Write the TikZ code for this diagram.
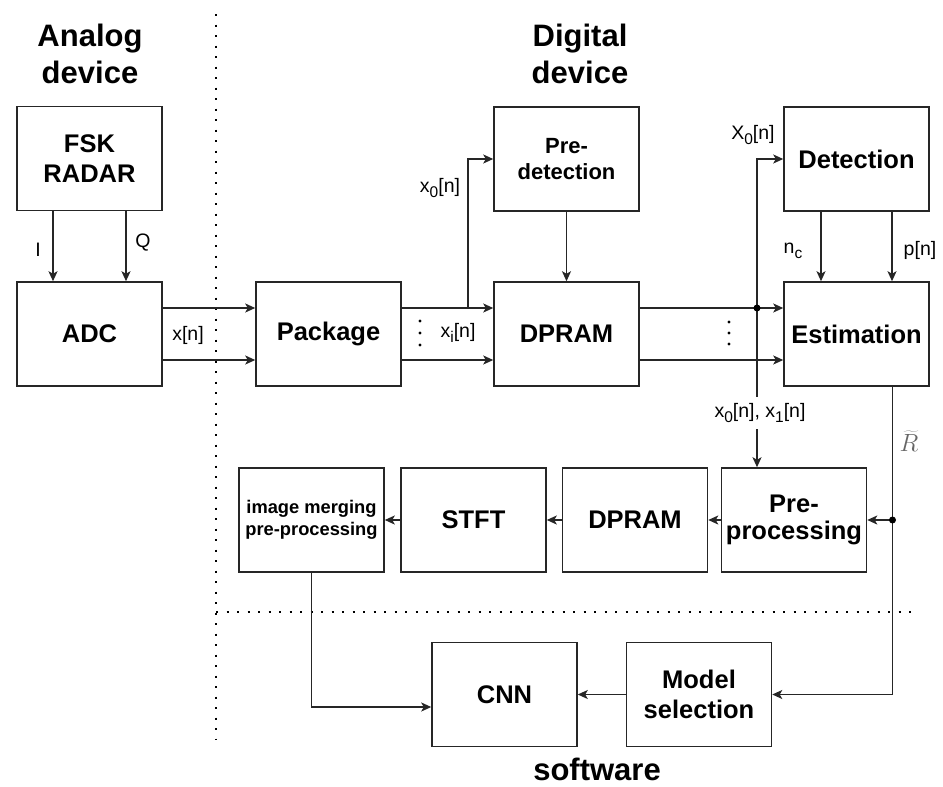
\documentclass[tikz,border=0pt]{standalone}
\usepackage{fontspec}
\setmainfont{Liberation Sans}
\usetikzlibrary{arrows.meta,calc}
\definecolor{ink}{HTML}{262626}
% lowered index in signal names
\newcommand{\idx}[1]{\raisebox{-0.28em}{\fontsize{15.5}{16}\selectfont #1}}
\begin{document}
\begin{tikzpicture}[x=1pt,y=-1pt,
  blk/.style={draw=ink,line width=1.5pt,minimum width=145pt,minimum height=104pt,
    inner sep=0pt,align=center,font=\fontsize{25.5}{30}\selectfont\bfseries},
  sblk/.style={blk,font=\fontsize{22}{26}\selectfont\bfseries},
  tblk/.style={blk,font=\fontsize{18.3}{22}\selectfont\bfseries},
  arr/.style={draw=ink,line width=1.5pt,-{Stealth[length=10pt,width=9pt,inset=2.5pt]}},
  lbl/.style={inner sep=1pt,font=\fontsize{19.5}{22}\selectfont},
  hdr/.style={inner sep=0pt,anchor=base,font=\fontsize{31}{37}\selectfont\bfseries},
  sep/.style={draw=black,line width=2.2pt,dash pattern=on 2.2pt off 8.3pt},
  jdot/.style={fill=black}]
\useasboundingbox (0,0) rectangle (943,787);

% section dividers
\draw[sep] (216,14) -- (216,740);
\draw[sep] (216,612) -- (914,612);

% headings
\node[hdr] (h1a) at (90,46) {Analog};
\node[hdr] (h1b) at (90,83) {device};
\node[hdr] (h2a) at (580,46) {Digital};
\node[hdr] (h2b) at (580,83) {device};
\node[hdr] (h3) at (597,780) {software};

% blocks
\node[blk]  (fsk)  at (89.5,158.5) {FSK\\RADAR};
\node[blk]  (adc)  at (89.5,334)   {ADC};
\node[blk]  (pkg)  at (328.5,334)  {Package};
\node[sblk] (pred) at (566.5,159)  {Pre-\\detection};
\node[blk]  (dpr)  at (566.5,334)  {DPRAM};
\node[blk]  (det)  at (856.5,159)  {Detection};
\node[blk]  (est)  at (856.5,334)  {Estimation};
\node[blk, font=\fontsize{25.5}{27}\selectfont\bfseries] (prep) at (794,520) {Pre-\\processing};
\node[blk]  (dpr2) at (635,520)    {DPRAM};
\node[blk]  (stft) at (473.5,520)  {STFT};
\node[tblk] (img)  at (311.5,520)  {image merging\\pre-processing};
\node[blk]  (msel) at (699,694.5)  {Model\\selection};
\node[blk]  (cnn)  at (504.5,694.5) {CNN};

% analog front end
\draw[arr] ([xshift=-36.5pt]fsk.south) -- ([xshift=-36.5pt]adc.north);
\draw[arr] ([xshift=36.5pt]fsk.south) -- ([xshift=36.5pt]adc.north);
\node[lbl] (lI) at (38,250) {I};
\node[lbl] (lQ) at (143,243) {Q};

\draw[arr] ([yshift=26pt]adc.east) -- ([yshift=26pt]pkg.west);
\draw[arr] ([yshift=-26pt]adc.east) -- ([yshift=-26pt]pkg.west);
\node[lbl] (lx) at (188,335) {x[n]};

% package to DPRAM
\draw[arr] ([yshift=26pt]pkg.east) -- ([yshift=26pt]dpr.west);
\draw[arr] ([yshift=-26pt]pkg.east) -- ([yshift=-26pt]dpr.west);
\foreach \dy in {-12,0,12} \fill[black] (420,333+\dy) circle (1.7pt);
\node[lbl] (lxi) at (458,333) {x\idx{i}[n]};

\coordinate (b1) at (468,308);
\draw[arr] (b1) |- (pred.west);
\node[lbl] (lx0) at (440,188) {x\idx{0}[n]};
\draw[arr] (pred.south) -- (dpr.north);

% DPRAM to estimation
\draw[arr] ([yshift=26pt]dpr.east) -- ([yshift=26pt]est.west);
\draw[arr] ([yshift=-26pt]dpr.east) -- ([yshift=-26pt]est.west);
\foreach \dy in {-11,0,11} \fill[black] (729,333+\dy) circle (1.7pt);

\coordinate (tap) at (757,308);
\draw[arr] (tap) |- (det.west);
\draw[arr] (tap) -- (tap |- prep.north);
\fill[jdot] (tap) circle (3.5pt);
\node[lbl] (lX0) at (753,135) {X\idx{0}[n]};
\node[lbl,fill=white,inner ysep=6pt] (lx01) at (760,413) {x\idx{0}[n], x\idx{1}[n]};

\draw[arr] ([xshift=-35.5pt]det.south) -- ([xshift=-35.5pt]est.north);
\draw[arr] ([xshift=35.5pt]det.south) -- ([xshift=35.5pt]est.north);
\node[lbl] (lnc) at (793,251) {n\idx{c}};
\node[lbl] (lpn) at (920,250) {p[n]};

% range estimate feedback
\draw[arr] ([xshift=36pt]est.south) |- (msel.east);
\coordinate (rj) at ([xshift=36pt]est.south |- prep.east);
\draw[arr] (rj) -- (prep.east);
\fill[jdot] (rj) circle (3.5pt);
\node[inner sep=0pt,text=black!60,font=\fontsize{25}{27}\selectfont] (lR) at (909,441) {$\widetilde{R}$};

% processing chain
\draw[arr] (prep.west) -- (dpr2.east);
\draw[arr] (dpr2.west) -- (stft.east);
\draw[arr] (stft.west) -- (img.east);
\draw[arr] (img.south) |- ([yshift=-12.5pt]cnn.west);
\draw[arr] (msel.west) -- (cnn.east);
\end{tikzpicture}
\end{document}
